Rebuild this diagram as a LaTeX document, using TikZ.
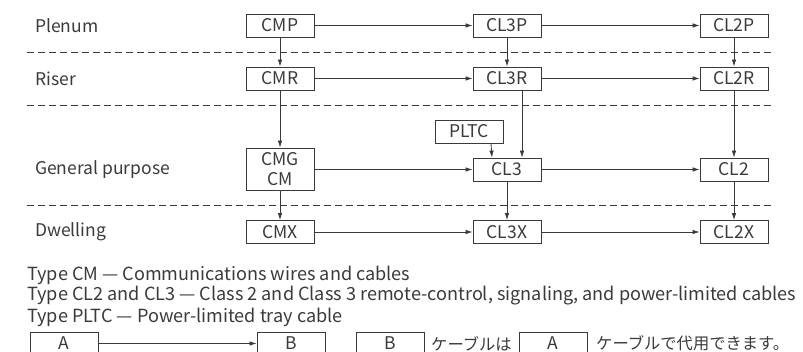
\documentclass[tikz,border=0pt]{standalone}
\usepackage{fontspec}
\setmainfont{Noto Sans CJK JP}
\newfontfamily\jpfont{Noto Sans CJK JP}
\usetikzlibrary{arrows.meta}
\definecolor{ink}{HTML}{3A3A3A}
\begin{document}
\begin{tikzpicture}[x=1pt,y=-1pt,
  every node/.style={text=ink, font=\fontsize{17.5}{19}\selectfont},
  box/.style={draw=ink, line width=0.8pt, minimum width=68pt, minimum height=23pt, inner sep=0pt},
  arr/.style={draw=ink, line width=0.8pt, -{Latex[length=7pt,width=4.5pt]}},
  sep/.style={draw=ink, line width=0.9pt, dash pattern=on 7pt off 4pt},
  lbl/.style={anchor=west, inner sep=0pt},
  leg/.style={lbl, font=\fontsize{18.1}{20}\selectfont},
  jp/.style={lbl, font=\jpfont\fontsize{16.3}{18}\selectfont},
]
\useasboundingbox (0,0) rectangle (803,352);
\clip (0,0) rectangle (803,352);
% separators
\coordinate (s1l) at (27,52); \coordinate (s1r) at (773,52);
\coordinate (s2l) at (27,105); \coordinate (s2r) at (773,105);
\coordinate (s3l) at (27,205); \coordinate (s3r) at (773,205);
\draw[sep] (s1l) -- (s1r);
\draw[sep] (s2l) -- (s2r);
\draw[sep] (s3l) -- (s3r);
% row labels
\node[lbl] (lp) at (35,25.5) {Plenum};
\node[lbl] (lr) at (35,78.5) {Riser};
\node[lbl] (lg) at (35,169.5) {General purpose};
\node[lbl] (ld) at (35,232) {Dwelling};
% boxes
\node[box] (cmp) at (280,25.5) {CMP};
\node[box] (cl3p) at (507,25.5) {CL3P};
\node[box] (cl2p) at (734,25.5) {CL2P};
\node[box] (cmr) at (280,78.5) {CMR};
\node[box] (cl3r) at (507,78.5) {CL3R};
\node[box] (cl2r) at (734,78.5) {CL2R};
\node[box, minimum height=42pt, align=center, font=\fontsize{17.5}{20}\selectfont] (cmg) at (280,169) {CMG\\CM};
\node[box] (pltc) at (469,131.5) {PLTC};
\node[box] (cl3) at (507,169.5) {CL3};
\node[box] (cl2) at (734,169.5) {CL2};
\node[box] (cmx) at (280,232) {CMX};
\node[box] (cl3x) at (507,232) {CL3X};
\node[box] (cl2x) at (734,232) {CL2X};
% horizontal arrows
\draw[arr] (cmp) -- (cl3p);
\draw[arr] (cl3p) -- (cl2p);
\draw[arr] (cmr) -- (cl3r);
\draw[arr] (cl3r) -- (cl2r);
\draw[arr] (cmg.east |- cl3) -- (cl3);
\draw[arr] (cl3) -- (cl2);
\draw[arr] (cmx) -- (cl3x);
\draw[arr] (cl3x) -- (cl2x);
% vertical arrows
\draw[arr] (cmp) -- (cmr);
\draw[arr] (cl3p) -- (cl3r);
\draw[arr] (cl2p) -- (cl2r);
\draw[arr] (cmr) -- (cmg);
\draw[arr] ([xshift=15pt]cl3r.south) -- ([xshift=15pt]cl3.north);
\draw[arr] ([xshift=22pt]pltc.south) -- ([xshift=-15pt]cl3.north);
\draw[arr] (cl2r) -- (cl2);
\draw[arr] (cmg) -- (cmx);
\draw[arr] (cl3) -- (cl3x);
\draw[arr] (cl2) -- (cl2x);
% legend text
\node[leg] (t1) at (27,275) {Type CM — Communications wires and cables};
\node[leg] (t2) at (27,296) {Type CL2 and CL3 — Class 2 and Class 3 remote-control, signaling, and power-limited cables};
\node[leg] (t3) at (27,317) {Type PLTC — Power-limited tray cable};
% legend boxes
\node[box] (la) at (64,343.5) {A};
\node[box] (lb) at (291,343.5) {B};
\draw[arr] (la) -- (lb);
\node[box] (lb2) at (390.5,343.5) {B};
\node[jp] (j1) at (431,343.5) {ケーブルは};
\node[box] (la2) at (553,343.5) {A};
\node[jp] (j2) at (596,343.5) {ケーブルで代用できます。};
\end{tikzpicture}
\end{document}
